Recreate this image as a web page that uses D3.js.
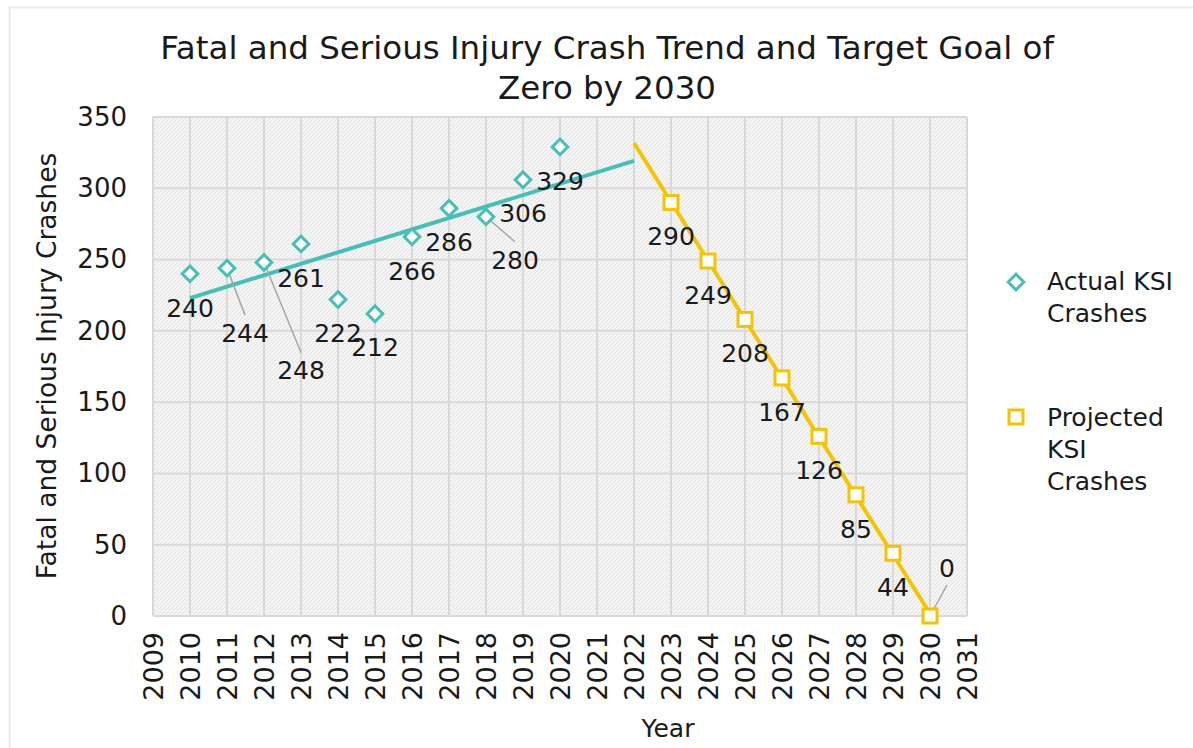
<!DOCTYPE html>
<html>
<head>
<meta charset="utf-8">
<script src="https://cdn.jsdelivr.net/npm/d3@7"></script>
<style>
  body { margin: 0; background: #fff; }
  svg { display: block; font-family: 'DejaVu Sans', sans-serif; }
</style>
</head>
<body>
<div class="visHolder"></div>
<script>
// values
const actualYears = [2010, 2011, 2012, 2013, 2014, 2015, 2016, 2017, 2018, 2019, 2020];
const actualValues = [240, 244, 248, 261, 222, 212, 266, 286, 280, 306, 329];
const projYears = [2023, 2024, 2025, 2026, 2027, 2028, 2029, 2030];
const projValues = [290, 249, 208, 167, 126, 85, 44, 0];
const xTicks = d3.range(2009, 2032);
const yTicks = [0, 50, 100, 150, 200, 250, 300, 350];

// label nudges (px) for the few labels that were moved off the point
const labelShift = { 2011: [18, 65], 2012: [37, 108], 2018: [29, 43], 2030: [17, -48] };

const w = 1193;
const h = 748;
const teal = '#45bfb8';
const gold = '#f5c400';

const svg = d3.select('.visHolder')
  .append('svg')
  .attr('width', w)
  .attr('height', h);

const defs = svg.append('defs');
const pat = defs.append('pattern')
  .attr('id', 'hatch')
  .attr('patternUnits', 'userSpaceOnUse')
  .attr('width', 4)
  .attr('height', 4);
pat.append('rect').attr('width', 4).attr('height', 4).attr('fill', '#f4f4f4');
pat.append('path').attr('d', 'M-1,1 l2,-2 M0,4 l4,-4 M3,5 l2,-2')
  .attr('stroke', '#e4e4e4').attr('stroke-width', 1);

// chart border
svg.append('rect')
  .attr('x', 9.5).attr('y', 7.5)
  .attr('width', 1300).attr('height', 800)
  .attr('fill', 'none')
  .attr('stroke', '#ebebeb')
  .attr('stroke-width', 2);

const xScale = d3.scaleLinear().domain([2009, 2031]).range([153, 967]);
const yScale = d3.scaleLinear().domain([0, 350]).range([616, 117]);

svg.append('rect')
  .attr('x', xScale(2009)).attr('y', yScale(350))
  .attr('width', xScale(2031) - xScale(2009))
  .attr('height', yScale(0) - yScale(350))
  .attr('fill', 'url(#hatch)');

// grid
svg.append('g').selectAll('line')
  .data(xTicks)
  .enter()
  .append('line')
  .attr('x1', d => xScale(d)).attr('x2', d => xScale(d))
  .attr('y1', yScale(0)).attr('y2', yScale(350))
  .attr('stroke', '#d9d9d9').attr('stroke-width', 2);
svg.append('g').selectAll('line')
  .data(yTicks)
  .enter()
  .append('line')
  .attr('x1', xScale(2009)).attr('x2', xScale(2031))
  .attr('y1', d => yScale(d)).attr('y2', d => yScale(d))
  .attr('stroke', '#d9d9d9').attr('stroke-width', 2);

// axes
const yAxis = d3.axisLeft(yScale).tickValues(yTicks).tickSize(0).tickPadding(26);
svg.append('g')
  .attr('transform', 'translate(' + xScale(2009) + ',0)')
  .call(yAxis)
  .call(g => g.select('.domain').remove())
  .selectAll('text')
  .style('font-size', '26px')
  .style('font-family', 'DejaVu Sans')
  .attr('fill', '#1a1a1a');

const xAxis = d3.axisBottom(xScale).tickValues(xTicks).tickSize(0).tickFormat(d3.format('d'));
svg.append('g')
  .attr('transform', 'translate(0,' + yScale(0) + ')')
  .call(xAxis)
  .call(g => g.select('.domain').remove())
  .selectAll('text')
  .attr('transform', 'rotate(-90)')
  .attr('x', -16)
  .attr('y', 0)
  .attr('dy', '0.35em')
  .style('text-anchor', 'end')
  .style('font-size', '27px')
  .style('font-family', 'DejaVu Sans')
  .attr('fill', '#1a1a1a');

// titles
svg.append('text')
  .attr('x', 607).attr('y', 59)
  .attr('text-anchor', 'middle')
  .style('font-size', '32.5px')
  .attr('fill', '#1a1a1a')
  .text('Fatal and Serious Injury Crash Trend and Target Goal of');
svg.append('text')
  .attr('x', 607).attr('y', 99)
  .attr('text-anchor', 'middle')
  .style('font-size', '32.5px')
  .attr('fill', '#1a1a1a')
  .text('Zero by 2030');

svg.append('text')
  .attr('x', 668).attr('y', 737)
  .attr('text-anchor', 'middle')
  .style('font-size', '25px')
  .attr('fill', '#1a1a1a')
  .text('Year');

svg.append('text')
  .attr('transform', 'rotate(-90)')
  .attr('x', -366).attr('y', 47)
  .attr('dy', '0.35em')
  .attr('text-anchor', 'middle')
  .style('font-size', '26.5px')
  .attr('fill', '#1a1a1a')
  .text('Fatal and Serious Injury Crashes');

// trend lines (least squares, like the spreadsheet trendline)
function fit(xs, ys) {
  const mx = d3.mean(xs), my = d3.mean(ys);
  const slope = d3.sum(xs, (x, i) => (x - mx) * (ys[i] - my)) / d3.sum(xs, x => (x - mx) * (x - mx));
  return x => my + slope * (x - mx);
}
const actualFit = fit(actualYears, actualValues);
const projFit = fit(projYears, projValues);

const line = d3.line().x(d => xScale(d[0])).y(d => yScale(d[1]));

svg.append('path')
  .datum([2010, 2022].map(x => [x, actualFit(x)]))
  .attr('d', line)
  .attr('fill', 'none')
  .attr('stroke', teal)
  .attr('stroke-width', 4);

svg.append('path')
  .datum([2022, 2030].map(x => [x, projFit(x)]))
  .attr('d', line)
  .attr('fill', 'none')
  .attr('stroke', gold)
  .attr('stroke-width', 4);

const actual = actualYears.map((y, i) => ({ year: y, value: actualValues[i], type: 'a' }));
const proj = projYears.map((y, i) => ({ year: y, value: projValues[i], type: 'p' }));
const all = actual.concat(proj);

// leader lines
svg.append('g').selectAll('line')
  .data(all.filter(d => labelShift[d.year]))
  .enter()
  .append('line')
  .attr('x1', d => xScale(d.year))
  .attr('y1', d => yScale(d.value))
  .attr('x2', d => xScale(d.year) + labelShift[d.year][0])
  .attr('y2', d => yScale(d.value) + labelShift[d.year][1] + (labelShift[d.year][1] > 0 ? -18 : 17))
  .attr('stroke', '#a6a6a6')
  .attr('stroke-width', 1.5);

// markers
const diamond = 'M-5.5,-5.5 h11 v11 h-11 z';
svg.append('g').selectAll('path')
  .data(actual)
  .enter()
  .append('path')
  .attr('transform', d => 'translate(' + xScale(d.year) + ',' + yScale(d.value) + ') rotate(45)')
  .attr('d', diamond)
  .attr('fill', '#fff')
  .attr('stroke', teal)
  .attr('stroke-width', 3);

svg.append('g').selectAll('rect')
  .data(proj)
  .enter()
  .append('rect')
  .attr('x', d => xScale(d.year) - 7)
  .attr('y', d => yScale(d.value) - 7)
  .attr('width', 14)
  .attr('height', 14)
  .attr('fill', '#fff')
  .attr('stroke', gold)
  .attr('stroke-width', 3);

// data labels
svg.append('g').selectAll('text')
  .data(all)
  .enter()
  .append('text')
  .attr('x', d => xScale(d.year) + (labelShift[d.year] ? labelShift[d.year][0] : 0))
  .attr('y', d => yScale(d.value) + (labelShift[d.year] ? labelShift[d.year][1] : 34))
  .attr('dy', '0.35em')
  .attr('text-anchor', 'middle')
  .style('font-size', '25px')
  .attr('fill', '#1a1a1a')
  .text(d => d.value);

// legend
const legend = svg.append('g').attr('id', 'legend');
legend.append('path')
  .attr('transform', 'translate(1016,282) rotate(45)')
  .attr('d', diamond)
  .attr('fill', '#fff')
  .attr('stroke', teal)
  .attr('stroke-width', 3);
legend.append('rect')
  .attr('x', 1009).attr('y', 410)
  .attr('width', 14).attr('height', 14)
  .attr('fill', '#fff')
  .attr('stroke', gold)
  .attr('stroke-width', 3);

const legendLines = [
  ['Actual KSI', 281], ['Crashes', 313],
  ['Projected', 417], ['KSI', 449], ['Crashes', 481]
];
legend.selectAll('text')
  .data(legendLines)
  .enter()
  .append('text')
  .attr('x', 1047)
  .attr('y', d => d[1])
  .attr('dy', '0.35em')
  .style('font-size', '25px')
  .attr('fill', '#1a1a1a')
  .text(d => d[0]);
</script>
</body>
</html>
